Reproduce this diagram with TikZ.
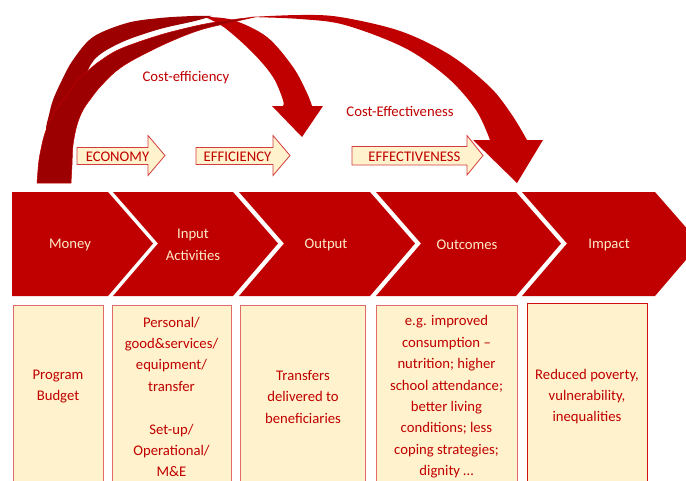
\documentclass[tikz,border=0pt]{standalone}
\usepackage{fontspec}
\setmainfont{Carlito}
\definecolor{chevred}{HTML}{C00000}
\definecolor{darkred}{HTML}{9C0000}
\definecolor{cream}{HTML}{FDEBC9}
\definecolor{boxfill}{HTML}{FFF2CC}
\definecolor{boxline}{HTML}{E06A6A}
\definecolor{impactline}{HTML}{D01010}
\definecolor{arrowline}{HTML}{D23C3C}
\begin{document}
\begin{tikzpicture}[x=1pt,y=-1pt,
  chev/.style={fill=chevred},
  backband/.style={fill=darkred},
  frontband/.style={fill=chevred},
  txt/.style={font=\fontsize{14.7}{21.4}\selectfont, align=center, inner sep=0pt},
  chevtext/.style={txt, text=cream},
  infotext/.style={txt, text=chevred},
  infobox/.style={fill=boxfill, draw=boxline, line width=1pt},
  impactbox/.style={fill=boxfill, draw=impactline, line width=1pt},
  blockarrow/.style={fill=boxfill, draw=arrowline, line width=0.8pt},
  lbl/.style={txt, text=chevred}]
\useasboundingbox (0,0) rectangle (686,480);
\clip (0,0) rectangle (686,480);

% ---- curved arrow: cost-efficiency (money -> output)
\fill[backband] plot[smooth, tension=0.55] coordinates {(50,145) (46,130) (49,115) (53,100) (62,80) (73,60) (93,37) (127,23) (160,18) (193,16) (212,16)}
  -- plot[smooth, tension=0.55] coordinates {(212,16) (195,21) (160,29) (127,40) (105,51) (94,60) (88,70) (80,88) (72,110) (66,130) (62,145)} -- cycle;
\fill[frontband] plot[smooth, tension=0.55] coordinates {(205,17) (233,20) (267,37) (293,67) (307,93) (312,106)}
  -- (323,106) -- (302,137) -- (272,106)
  -- plot[smooth, tension=0.55] coordinates {(283,106) (283,100) (273,77) (253,53) (225,28) (205,17)} -- cycle;

% ---- curved arrow: cost-effectiveness (money -> outcomes)
\filldraw[backband, draw=chevred, line width=0.5pt] plot[smooth, tension=0.55] coordinates {(37,183) (39,160) (43,140) (45,133) (52,116) (63,100) (78,80) (90,69) (100,61) (120,49) (160,35) (200,25) (230,20) (255,17)}
  -- plot[smooth, tension=0.55] coordinates {(255,17) (233,22) (200,30) (167,43) (133,60) (115,72) (100,87) (92,97) (83,110) (77,125) (73,145) (72,165) (71,183)} -- cycle;
\fill[frontband] plot[smooth, tension=0.55] coordinates {(250,17) (300,15) (340,17) (400,31) (450,55) (490,87) (512,115) (527,140)}
  -- (543,140) -- (517,183) -- (473,140)
  -- plot[smooth, tension=0.55] coordinates {(490,140) (476,110) (448,78) (405,48) (345,25) (300,19) (250,17)} -- cycle;

\node[lbl] (costeff) at (186,77.5) {Cost-efficiency};
\node[lbl] (costeffect) at (400,111) {Cost-Effectiveness};

% ---- small block arrows
\draw[blockarrow] (77,147.5) -- (148,147.5) -- (148,135.5) -- (165,155.5) -- (148,175.5) -- (148,164.5) -- (77,164.5) -- cycle;
\draw[blockarrow] (196,147.5) -- (273,147.5) -- (273,135.5) -- (290,155.5) -- (273,175.5) -- (273,164.5) -- (196,164.5) -- cycle;
\draw[blockarrow] (352,146.5) -- (467,146.5) -- (467,135.5) -- (483,155.5) -- (467,175) -- (467,165) -- (352,165) -- cycle;
\node[lbl] (economy) at (117.5,157) {ECONOMY};
\node[lbl] (efficiency) at (237.5,157) {EFFICIENCY};
\node[lbl] (effectiveness) at (414.5,156.5) {EFFECTIVENESS};

% ---- results chain chevrons
\fill[chev] (12,192) -- (108,192) -- (153,243.5) -- (108,296) -- (12,296) -- cycle;
\fill[chev] (113,192) -- (233,192) -- (278,243.5) -- (233,296) -- (113,296) -- (158,243.5) -- cycle;
\fill[chev] (239,192) -- (370,192) -- (415,243.5) -- (370,296) -- (239,296) -- (284,243.5) -- cycle;
\fill[chev] (376,192) -- (516,192) -- (561,243.5) -- (516,296) -- (376,296) -- (421,243.5) -- cycle;
\fill[chev] (522,192) -- (655,192) -- (700,243.5) -- (655,296) -- (522,296) -- (567,243.5) -- cycle;
\node[chevtext] (money) at (70,245) {Money};
\node[chevtext] (input) at (193,245) {Input\\Activities};
\node[chevtext] (output) at (326,245) {Output};
\node[chevtext] (outcomes) at (467,244.5) {Outcomes};
\node[chevtext] (impact) at (609,245) {Impact};

% ---- description boxes
\draw[infobox] (13.5,305.5) rectangle (103.5,495);
\draw[infobox] (112.5,305.5) rectangle (231.5,495);
\draw[infobox] (240.5,305.5) rectangle (365.5,495);
\draw[infobox] (376.5,305.5) rectangle (517.5,495);
\draw[impactbox] (527.5,303.5) rectangle (647.5,495);
\node[infotext] (budget) at (58,386.5) {Program\\Budget};
\node[infotext] (inputs) at (171.5,397) {Personal/\\good\&services/\\equipment/\\transfer\\[21.4pt]Set-up/\\Operational/\\M\&E};
\node[infotext] (transfers) at (303,397) {Transfers\\delivered to\\beneficiaries};
\node[infotext] (results) at (446.5,397) {e.g. improved\\consumption –\\nutrition; higher\\school attendance;\\better living\\conditions; less\\coping strategies;\\dignity …};
\node[infotext] (poverty) at (587,396.5) {Reduced poverty,\\vulnerability,\\inequalities};
\end{tikzpicture}
\end{document}
